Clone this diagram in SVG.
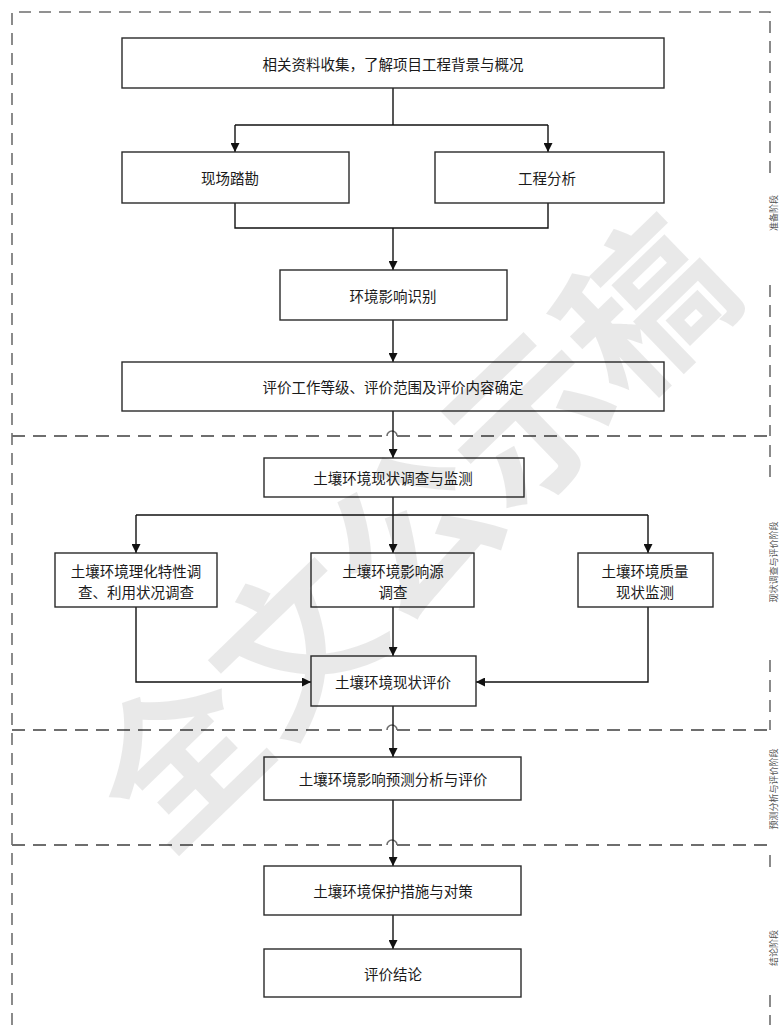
<svg xmlns="http://www.w3.org/2000/svg" width="780" height="1025" viewBox="0 0 780 1025">
  <defs>
    <style>
      .box { fill: #ffffff; stroke: #2a2a2a; stroke-width: 1.4; }
      .lbl { font-family: "Noto Sans CJK SC", "Liberation Serif", serif; font-size: 14.5px; fill: #1a1a1a; text-anchor: middle; dominant-baseline: central; }
      .wire { fill: none; stroke: #111; stroke-width: 1.4; }
      .dash { fill: none; stroke: #6e6e6e; stroke-width: 2; stroke-dasharray: 13 8; }
      .edge { fill: none; stroke: #6e6e6e; stroke-width: 1.6; stroke-dasharray: 12 8; }
      .hop { fill: none; stroke: #6e6e6e; stroke-width: 1.6; }
      .stage { font-family: "Noto Sans CJK SC", "Liberation Sans", sans-serif; font-size: 9px; fill: #555; text-anchor: middle; dominant-baseline: central; }
      .mark { font-family: "Noto Sans CJK SC", sans-serif; font-size: 162px; font-weight: bold; fill: #000; fill-opacity: 0.085; text-anchor: middle; dominant-baseline: central; }
    </style>
    <marker id="arrow" viewBox="0 0 10 10" refX="10" refY="5" markerWidth="9" markerHeight="9" markerUnits="userSpaceOnUse" orient="auto">
      <path d="M0,0 L10,5 L0,10 Z" fill="#111"/>
    </marker>
  </defs>

  <rect width="780" height="1025" fill="#ffffff"/>

  <!-- stage frames -->
  <g id="frames">
    <path class="edge" d="M12,1025 V12 H770 V178"/>
    <path class="edge" d="M770,285 V436"/>
    <path class="edge" d="M770,445 V482"/>
    <path class="edge" d="M770,660 V730"/>
    <path class="edge" d="M770,855 V875"/>
    <path class="edge" d="M770,995 V1025"/>
    <!-- stage separators with hops over the main flow -->
    <path class="dash" d="M12,436 H387"/>
    <path class="hop" d="M387,436 A5,5 0 0 1 397,436"/>
    <path class="dash" d="M397,436 H770"/>
    <path class="dash" d="M12,730 H387"/>
    <path class="hop" d="M387,730 A5,5 0 0 1 397,730"/>
    <path class="dash" d="M397,730 H770"/>
    <path class="dash" d="M12,845 H387"/>
    <path class="hop" d="M387,845 A5,5 0 0 1 397,845"/>
    <path class="dash" d="M397,845 H770"/>
    <text class="stage" transform="translate(773,213) rotate(-90)">准备阶段</text>
    <text class="stage" transform="translate(773,562) rotate(-90)">现状调查与评价阶段</text>
    <text class="stage" transform="translate(773,789) rotate(-90)">预测分析与评价阶段</text>
    <text class="stage" transform="translate(773,948) rotate(-90)">结论阶段</text>
  </g>

  <!-- connectors -->
  <g id="connectors">
    <path class="wire" d="M393,88 V125"/>
    <path class="wire" d="M235,125 H548"/>
    <path class="wire" d="M235,125 V152" marker-end="url(#arrow)"/>
    <path class="wire" d="M548,125 V152" marker-end="url(#arrow)"/>
    <path class="wire" d="M235,203 V228 H548 V203"/>
    <path class="wire" d="M393,228 V270" marker-end="url(#arrow)"/>
    <path class="wire" d="M393,320 V362" marker-end="url(#arrow)"/>
    <path class="wire" d="M393,411 V458" marker-end="url(#arrow)"/>
    <path class="wire" d="M393,497 V515"/>
    <path class="wire" d="M136,515 H648"/>
    <path class="wire" d="M136,515 V553" marker-end="url(#arrow)"/>
    <path class="wire" d="M393,515 V553" marker-end="url(#arrow)"/>
    <path class="wire" d="M648,515 V553" marker-end="url(#arrow)"/>
    <path class="wire" d="M393,607 V656" marker-end="url(#arrow)"/>
    <path class="wire" d="M136,607 V682 H311" marker-end="url(#arrow)"/>
    <path class="wire" d="M648,607 V682 H476" marker-end="url(#arrow)"/>
    <path class="wire" d="M393,706 V757" marker-end="url(#arrow)"/>
    <path class="wire" d="M393,800 V866" marker-end="url(#arrow)"/>
    <path class="wire" d="M393,915 V949" marker-end="url(#arrow)"/>
  </g>

  <!-- nodes -->
  <g id="collect">
    <rect class="box" x="122" y="38" width="542" height="50"/>
    <text class="lbl" x="393" y="63">相关资料收集，了解项目工程背景与概况</text>
  </g>
  <g id="survey">
    <rect class="box" x="122" y="152" width="227" height="51"/>
    <text class="lbl" x="230" y="177">现场踏勘</text>
  </g>
  <g id="analysis">
    <rect class="box" x="435" y="152" width="229" height="51"/>
    <text class="lbl" x="547" y="177">工程分析</text>
  </g>
  <g id="identify">
    <rect class="box" x="280" y="270" width="227" height="50"/>
    <text class="lbl" x="393" y="295">环境影响识别</text>
  </g>
  <g id="scope">
    <rect class="box" x="122" y="362" width="542" height="49"/>
    <text class="lbl" x="393" y="386">评价工作等级、评价范围及评价内容确定</text>
  </g>
  <g id="monitor">
    <rect class="box" x="264" y="458" width="260" height="39"/>
    <text class="lbl" x="393" y="477">土壤环境现状调查与监测</text>
  </g>
  <g id="physchem">
    <rect class="box" x="55" y="553" width="162" height="54"/>
    <text class="lbl" x="136" y="570">土壤环境理化特性调</text>
    <text class="lbl" x="136" y="591">查、利用状况调查</text>
  </g>
  <g id="sources">
    <rect class="box" x="311" y="553" width="163" height="54"/>
    <text class="lbl" x="393" y="570">土壤环境影响源</text>
    <text class="lbl" x="393" y="591">调查</text>
  </g>
  <g id="quality">
    <rect class="box" x="578" y="553" width="135" height="54"/>
    <text class="lbl" x="645" y="570">土壤环境质量</text>
    <text class="lbl" x="645" y="591">现状监测</text>
  </g>
  <g id="status">
    <rect class="box" x="311" y="656" width="165" height="50"/>
    <text class="lbl" x="393" y="681">土壤环境现状评价</text>
  </g>
  <g id="predict">
    <rect class="box" x="264" y="757" width="257" height="43"/>
    <text class="lbl" x="393" y="778">土壤环境影响预测分析与评价</text>
  </g>
  <g id="measures">
    <rect class="box" x="264" y="866" width="257" height="49"/>
    <text class="lbl" x="393" y="890">土壤环境保护措施与对策</text>
  </g>
  <g id="conclusion">
    <rect class="box" x="264" y="949" width="257" height="48"/>
    <text class="lbl" x="393" y="973">评价结论</text>
  </g>

  <!-- watermark -->
  <text class="mark" transform="translate(405,525) rotate(-44)">全文公示稿</text>
</svg>
